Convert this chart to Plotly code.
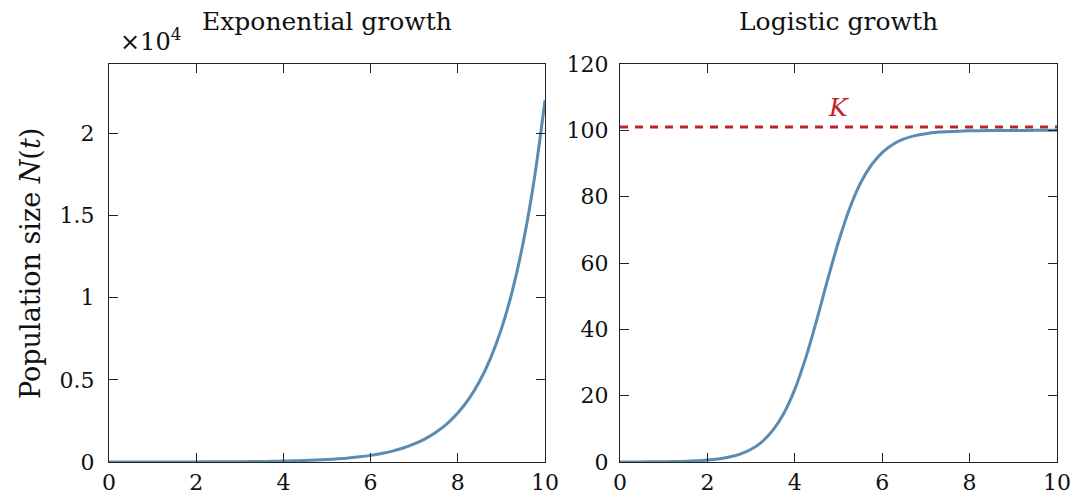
import plotly.graph_objects as go

# Time grid (shared by both panels)
t = [i * 0.25 for i in range(41)]

# Exponential growth, N(t)
n_exponential = [
    1.0, 1.28, 1.65, 2.12, 2.72, 3.49, 4.48, 5.75, 7.39, 9.49,
    12.2, 15.6, 20.1, 25.8, 33.1, 42.5, 54.6, 70.1, 90.0, 115.6,
    148, 191, 245, 314, 403, 518, 665, 854, 1097, 1408,
    1808, 2322, 2981, 3828, 4915, 6311, 8103, 10405, 13360, 17154,
    22026,
]

# Logistic growth, N(t)
n_logistic = [
    0.01, 0.02, 0.03, 0.05, 0.08, 0.13, 0.21, 0.34, 0.57, 0.92,
    1.49, 2.40, 3.85, 6.1, 9.6, 14.7, 21.9, 31.4, 42.7, 54.9,
    66.4, 76.3, 84.0, 89.5, 93.3, 95.8, 97.4, 98.4, 99.0, 99.4,
    99.6, 99.75, 99.85, 99.9, 99.93, 99.95, 99.97, 99.98, 99.99, 99.99,
    100.0,
]

# Carrying capacity line and its label
k_line_value = 101
k_label_pos = (5.0, 107)

x_ticks = [0, 2, 4, 6, 8, 10]
exp_tickvals = [0, 5000, 10000, 15000, 20000]
exp_ticktext = ["0", "0.5", "1", "1.5", "2"]
log_tickvals = [0, 20, 40, 60, 80, 100, 120]

FONT = "DejaVu Serif"
BLUE = "#5a8bb0"
RED = "#c0222b"
INK = "#111"
W, H = 1075, 495

fig = go.Figure()

fig.add_trace(go.Scatter(
    x=t, y=n_exponential, mode="lines", line=dict(color=BLUE, width=3, shape="spline"),
    xaxis="x", yaxis="y", showlegend=False, hoverinfo="skip",
))
fig.add_trace(go.Scatter(
    x=[0, 10], y=[k_line_value, k_line_value], mode="lines",
    line=dict(color=RED, width=3, dash="8px,7px"),
    xaxis="x2", yaxis="y2", showlegend=False, hoverinfo="skip",
))
fig.add_trace(go.Scatter(
    x=t, y=n_logistic, mode="lines", line=dict(color=BLUE, width=3, shape="spline"),
    xaxis="x2", yaxis="y2", showlegend=False, hoverinfo="skip",
))

axis_common = dict(
    showgrid=False, zeroline=False, showline=True, linecolor="#222", linewidth=1.3,
    mirror="allticks", ticks="inside", ticklen=9, tickwidth=1.2, tickcolor="#222",
    tickfont=dict(family=FONT, size=22, color=INK), automargin=False,
)

yb = (1 - 462 / H, 1 - 64 / H)

fig.update_layout(
    width=W, height=H,
    margin=dict(l=0, r=0, t=0, b=0, pad=0, autoexpand=False),
    paper_bgcolor="white", plot_bgcolor="white",
    xaxis=dict(domain=[109 / W, 545 / W], range=[0, 10], tickvals=x_ticks,
               anchor="y", ticklabelstandoff=0, **axis_common),
    yaxis=dict(domain=list(yb), range=[0, 24229], tickvals=exp_tickvals,
               ticktext=exp_ticktext, anchor="x", ticklabelstandoff=9, **axis_common),
    xaxis2=dict(domain=[620 / W, 1057 / W], range=[0, 10], tickvals=x_ticks,
                anchor="y2", ticklabelstandoff=0, **axis_common),
    yaxis2=dict(domain=list(yb), range=[0, 120], tickvals=log_tickvals,
                anchor="x2", ticklabelstandoff=6, **axis_common),
)

title_font = dict(family=FONT, size=25, color=INK)

fig.add_annotation(
    x=(109 + 545) / 2 / W, y=1 - 22 / H, xref="paper", yref="paper",
    xanchor="center", yanchor="middle",
    text="Exponential growth", showarrow=False, font=title_font,
)
fig.add_annotation(
    x=(620 + 1057) / 2 / W, y=1 - 22 / H, xref="paper", yref="paper",
    xanchor="center", yanchor="middle",
    text="Logistic growth", showarrow=False, font=title_font,
)
fig.add_annotation(
    x=118 / W, y=1 - 40 / H, xref="paper", yref="paper",
    xanchor="left", yanchor="middle",
    text="×10<sup>4</sup>", showarrow=False,
    font=dict(family=FONT, size=24, color=INK),
)
fig.add_annotation(
    x=30 / W, y=1 - 264 / H, xref="paper", yref="paper",
    xanchor="center", yanchor="middle",
    text="Population size <i>N</i>(<i>t</i>)", textangle=-90, showarrow=False,
    font=dict(family=FONT, size=27, color=INK),
)
fig.add_annotation(
    x=k_label_pos[0], y=k_label_pos[1], xref="x2", yref="y2",
    xanchor="center", yanchor="middle",
    text="<i>K</i>", showarrow=False,
    font=dict(family=FONT, size=25, color=RED),
)

fig.write_html("out.html")
